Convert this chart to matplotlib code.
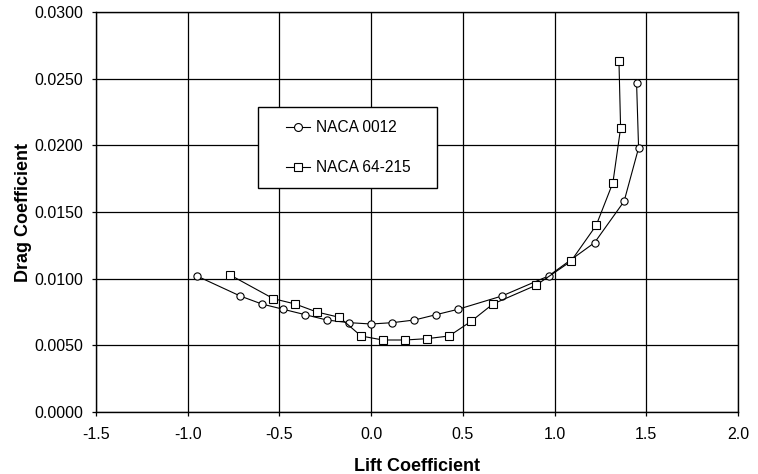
import matplotlib
matplotlib.use("Agg")
import matplotlib.pyplot as plt
from matplotlib.patches import Rectangle

plt.rcParams['font.family'] = ['Liberation Sans', 'DejaVu Sans']

# NACA 0012 (circles)
cl_0012 = [-0.95, -0.714, -0.596, -0.478, -0.360, -0.242, -0.12, 0.0, 0.116, 0.236,
           0.354, 0.473, 0.713, 0.967, 1.218, 1.379, 1.458, 1.447]
cd_0012 = [0.0102, 0.0087, 0.0081, 0.0077, 0.0073, 0.0069, 0.0067, 0.0066, 0.0067, 0.0069,
           0.0073, 0.0077, 0.0087, 0.0102, 0.0127, 0.0158, 0.0198, 0.0247]

# NACA 64-215 (squares)
cl_64215 = [-0.772, -0.533, -0.414, -0.296, -0.173, -0.055, 0.064, 0.185, 0.304, 0.425,
            0.545, 0.664, 0.898, 1.089, 1.227, 1.318, 1.36, 1.351]
cd_64215 = [0.0103, 0.0085, 0.0081, 0.0075, 0.0071, 0.0057, 0.0054, 0.0054, 0.0055, 0.0057,
            0.0068, 0.0081, 0.0095, 0.0113, 0.0140, 0.0172, 0.0213, 0.0263]

xticks = [-1.5, -1.0, -0.5, 0.0, 0.5, 1.0, 1.5, 2.0]
yticks = [0.0, 0.005, 0.010, 0.015, 0.020, 0.025, 0.030]

fig = plt.figure(figsize=(7.58, 4.74), dpi=100)
ax = fig.add_axes([96/758, 1-412/474, (738-96)/758, (412-12)/474])

ax.plot(cl_0012, cd_0012, color='black', lw=0.8, marker='o', ms=5.2,
        mfc='white', mec='black', mew=0.8, label='NACA 0012', zorder=3)
ax.plot(cl_64215, cd_64215, color='black', lw=0.8, marker='s', ms=5.2,
        mfc='white', mec='black', mew=0.8, label='NACA 64-215', zorder=3)

ax.set_xlim(-1.5, 2.0)
ax.set_ylim(0, 0.03)
ax.set_xticks(xticks)
ax.set_yticks(yticks)
ax.set_xticklabels([f"{v:.1f}" for v in xticks])
ax.set_yticklabels([f"{v:.4f}" for v in yticks])
ax.grid(True, color='black', lw=0.9)
ax.set_axisbelow(True)
for s in ax.spines.values():
    s.set_linewidth(1.0)
ax.tick_params(labelsize=11.5, length=3, width=0.9, color='black')
ax.tick_params(axis='x', pad=8)
ax.tick_params(axis='y', pad=6)

ax.set_xlabel('Lift Coefficient', fontsize=13, fontweight='bold', labelpad=11)
ax.set_ylabel('Drag Coefficient', fontsize=13, fontweight='bold', labelpad=2)

# legend box drawn by hand so the padding matches
box = Rectangle((0.2523, 0.56), 0.2788, 0.2025, transform=ax.transAxes,
                facecolor='white', edgecolor='black', lw=1.0, zorder=4)
ax.add_patch(box)
leg = ax.legend(loc='center left', bbox_to_anchor=(0.296, 0.661),
                fontsize=11.2, frameon=False, handlelength=1.55,
                labelspacing=1.6, borderpad=0, handletextpad=0.4,
                borderaxespad=0, markerscale=1.1)
leg.set_zorder(5)

fig.savefig('out.png', dpi=100)
